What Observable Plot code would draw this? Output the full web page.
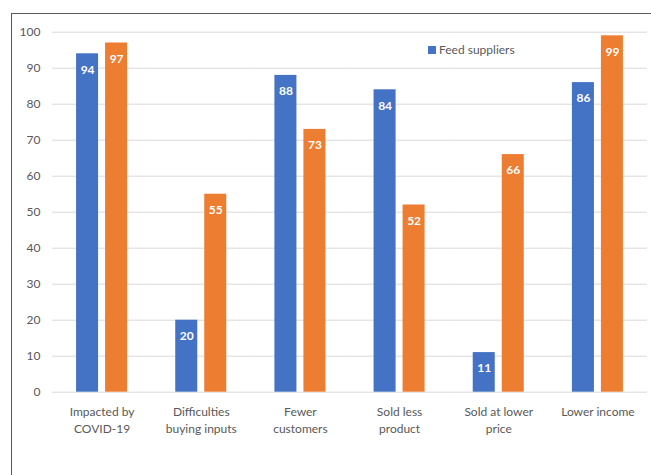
<!DOCTYPE html>
<html>
<head>
<meta charset="utf-8">
<script src="https://cdn.jsdelivr.net/npm/d3@7"></script>
<script src="https://cdn.jsdelivr.net/npm/@observablehq/plot@0.6"></script>
<style>
  html, body { margin: 0; padding: 0; background: #fff; }
  #wrap { position: relative; width: 651px; height: 475px; overflow: hidden; font-family: Lato, "Open Sans", sans-serif; }
  #frame { position: absolute; left: 11px; top: 13px; width: 720px; height: 520px; border: 1.5px solid #595959; box-sizing: border-box; }
  #chart { position: absolute; left: 0; top: 0; }
  #legend { position: absolute; left: 428px; top: 42px; font-size: 12px; color: #595959; display: flex; align-items: center; gap: 3px; }
  #legend .sw { width: 8px; height: 8px; background: #4472C4; display: inline-block; }
</style>
</head>
<body>
<div id="wrap">
  <div id="chart"></div>
  <div id="frame"></div>
  <div id="legend"><span class="sw"></span><span>Feed suppliers</span></div>
</div>
<script>
// Survey categories (line breaks used for the wrapped axis labels)
const categories = [
  "Impacted by\nCOVID-19",
  "Difficulties\nbuying inputs",
  "Fewer\ncustomers",
  "Sold less\nproduct",
  "Sold at lower\nprice",
  "Lower income"
];
const seriesNames = ["Feed suppliers", "Series 2"];
const feedSuppliers = [94, 20, 88, 84, 11, 86];
const series2 = [97, 55, 73, 52, 66, 99];
const yTicks = [0, 10, 20, 30, 40, 50, 60, 70, 80, 90, 100];
const colors = ["#4472C4", "#ED7D31"];

const rows = [];
categories.forEach((c, i) => {
  rows.push({category: c, series: seriesNames[0], value: feedSuppliers[i]});
  rows.push({category: c, series: seriesNames[1], value: series2[i]});
});

const chart = Plot.plot({
  width: 651,
  height: 475,
  marginLeft: 52,
  marginRight: 4,
  marginTop: 31.7,
  marginBottom: 83.3,
  style: {fontFamily: "Lato, 'Open Sans', sans-serif", fontSize: "12px", color: "#595959", background: "transparent"},
  fx: {domain: categories, paddingInner: 0, paddingOuter: 0, round: false, label: null},
  x: {domain: seriesNames, paddingInner: 0.241, paddingOuter: 0.83, round: false, axis: null},
  y: {domain: [0, 100], label: null},
  color: {domain: seriesNames, range: colors},
  marks: [
    Plot.gridY(yTicks, {stroke: "#d9d9d9", strokeOpacity: 1, strokeWidth: 1}),
    Plot.axisY(yTicks, {tickSize: 0, tickPadding: 12, fill: "#595959", label: null}),
    Plot.axisFx({anchor: "bottom", tickSize: 0, tickPadding: 12, lineHeight: 1.4, fill: "#595959", label: null}),
    Plot.barY(rows, {fx: "category", x: "series", y: "value", fill: "series"}),
    Plot.text(rows, {fx: "category", x: "series", y: "value", text: d => String(d.value),
      dy: 16, fill: "white", fontWeight: "bold", fontSize: 12})
  ]
});
document.getElementById("chart").appendChild(chart);
</script>
</body>
</html>
